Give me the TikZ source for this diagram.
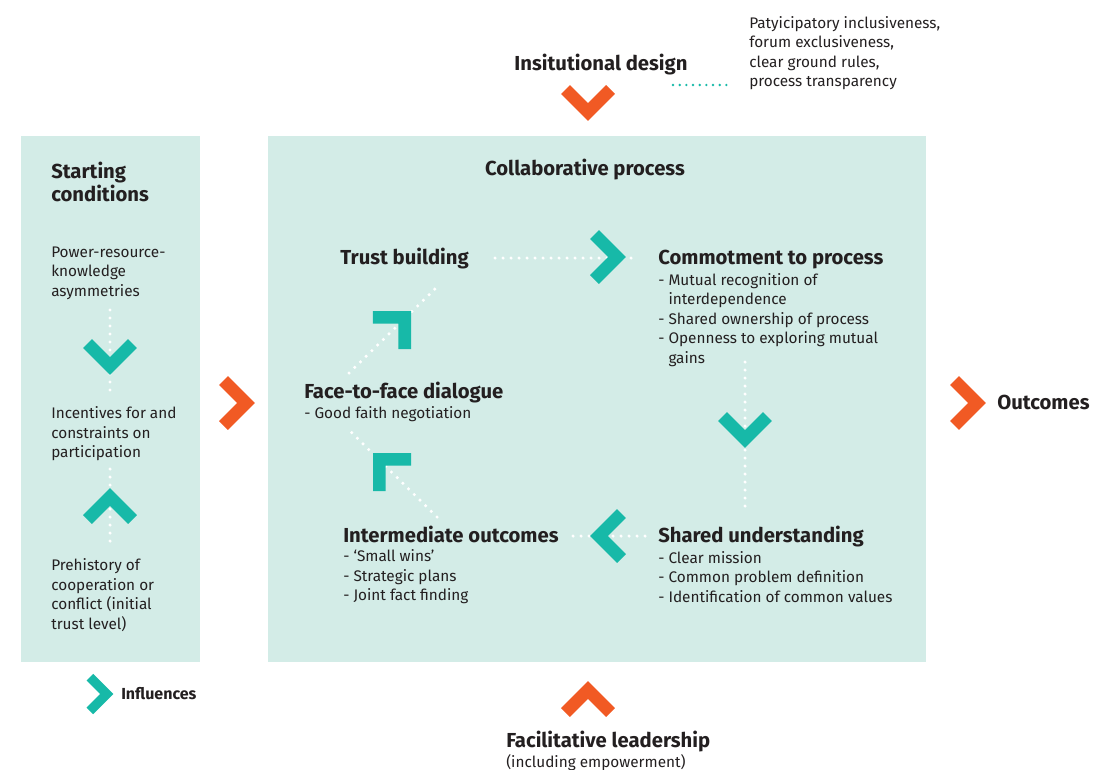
\documentclass[tikz,border=0pt]{standalone}
\usepackage{fontspec}
\setmainfont{Fira Sans}
\definecolor{panel}{HTML}{D3ECE7}
\definecolor{tealc}{HTML}{17B9A8}
\definecolor{orangec}{HTML}{F15A24}
\definecolor{ink}{HTML}{231F20}
\newcommand\txtsize{\fontsize{11.5}{14.6}\selectfont}
\newcommand\hdsize{\fontsize{15.2}{17.3}\selectfont\bfseries}
\newcommand\lgsize{\fontsize{12}{14}\selectfont\bfseries}
\tikzset{
  chev/.pic={\draw[line join=miter, line cap=butt] (-13.5,-22.5) -- (9,0) -- (-13.5,22.5);},
  tchev/.style={tealc, line width=9.5pt},
  ochev/.style={orangec, line width=9.5pt},
  hd/.style={font=\hdsize, align=left, inner sep=0pt, text=ink},
  tx/.style={font=\txtsize, align=left, inner sep=0pt, text=ink},
  dots/.style={white, line width=2.6pt, line cap=round, dash pattern=on 0pt off 6pt},
  tdots/.style={tealc, line width=2pt, line cap=round, dash pattern=on 0pt off 5pt},
}
\begin{document}
\begin{tikzpicture}[x=0.75pt, y=-0.75pt]
\useasboundingbox (0,0) rectangle (1094,769);

% panels
\fill[panel] (21,136) rectangle (200,662);
\fill[panel] (268,136) rectangle (926,662);

% text
\node[hd, anchor=base] (ins) at (601,70) {Insitutional design};
\node[tx, anchor=west] (insl) at (749,53) {Patyicipatory inclusiveness,\\forum exclusiveness,\\clear ground rules,\\process transparency};

\node[hd, anchor=west] (sc) at (51,181.5) {Starting\\conditions};
\node[tx, anchor=west] (pw) at (51,273) {Power-resource-\\knowledge\\asymmetries};
\node[tx, anchor=west] (inc) at (51,434) {Incentives for and\\constraints on\\participation};
\node[tx, anchor=west] (pre) at (51,595) {Prehistory of\\cooperation or\\conflict (initial\\trust level)};

\node[hd, anchor=base] (cp) at (585,175) {Collaborative process};
\node[hd, anchor=base west] (tb) at (340,264) {Trust building};
\node[hd, anchor=base west] (cm) at (658,264) {Commotment to process};
\node[tx, anchor=west] (cml) at (658,320) {- Mutual recognition of\\\phantom{- }interdependence\\- Shared ownership of process\\- Openness to exploring mutual\\\phantom{- }gains};
\node[hd, anchor=base west] (fd) at (304,398) {Face-to-face dialogue};
\node[tx, anchor=west] (fdl) at (304,414) {- Good faith negotiation};
\node[hd, anchor=base west] (io) at (343,542) {Intermediate outcomes};
\node[tx, anchor=west] (iol) at (343,577) {- ‘Small wins’\\- Strategic plans\\- Joint fact finding};
\node[hd, anchor=base west] (su) at (658,542) {Shared understanding};
\node[tx, anchor=west] (sul) at (658,577) {- Clear mission\\- Common problem definition\\- Identification of common values};

\node[hd, anchor=base west] (out) at (997,409) {Outcomes};
\node[font=\lgsize, text=ink, inner sep=0pt, anchor=base west] (inf) at (121,699) {Influences};
\node[hd, anchor=base west] (fl) at (506,747) {Facilitative leadership};
\node[tx, anchor=west] (fll) at (506,763) {(including empowerment)};

% dotted connectors
\coordinate (d1a) at (110,310); \coordinate (d1b) at (110,396);
\coordinate (d2a) at (110,469); \coordinate (d2b) at (110,543);
\coordinate (d3a) at (495,258); \coordinate (d3b) at (638,258);
\coordinate (d4a) at (745,362); \coordinate (d4b) at (745,508);
\coordinate (d5a) at (645,536); \coordinate (d5b) at (568,536);
\coordinate (d6a) at (437,517); \coordinate (d6b) at (348,429);
\coordinate (d7a) at (349,373); \coordinate (d7b) at (438,286);
\coordinate (t1a) at (673,85);  \coordinate (t1b) at (732,85);
\draw[dots] (d1a) -- (d1b);
\draw[dots] (d2a) -- (d2b);
\draw[dots] (d3a) -- (d3b);
\draw[dots] (d4a) -- (d4b);
\draw[dots] (d5a) -- (d5b);
\draw[dots] (d6a) -- (d6b);
\draw[dots] (d7a) -- (d7b);
\draw[tdots] (t1a) -- (t1b);

% chevrons
\pic[ochev, rotate=-90] at (588,103) {chev};
\pic[ochev] at (237,403) {chev};
\pic[ochev] at (968,403) {chev};
\pic[ochev, rotate=90] at (588,699) {chev};
\pic[tchev, rotate=-90] at (110,357) {chev};
\pic[tchev, rotate=90] at (110,506) {chev};
\pic[tealc, line width=7.1pt, scale=0.75] at (100,694) {chev};
\pic[tchev] at (608,257) {chev};
\pic[tchev, rotate=-90] at (745,430) {chev};
\pic[tchev, rotate=180] at (608,536) {chev};
\pic[tchev, rotate=45] at (398.3,323.7) {chev};
\pic[tchev, rotate=135] at (385.7,465.7) {chev};
\end{tikzpicture}
\end{document}
